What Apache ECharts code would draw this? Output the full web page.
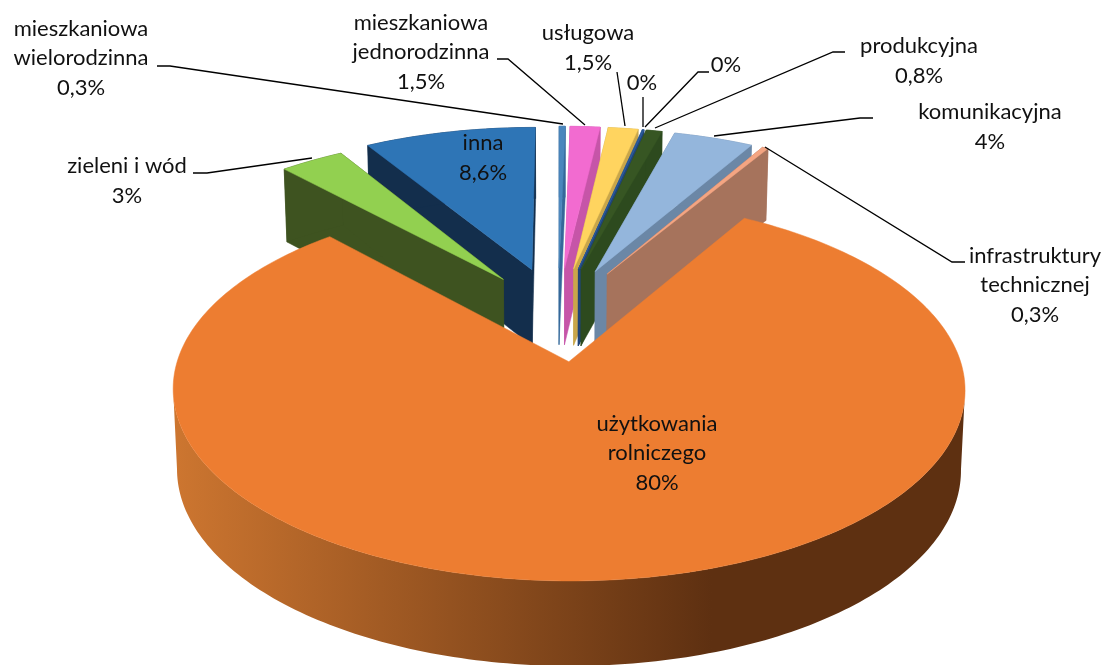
<!DOCTYPE html>
<html><head><meta charset="utf-8">
<style>html,body{margin:0;padding:0;background:#fff}#c{width:1104px;height:665px}</style>
<script src="https://cdn.jsdelivr.net/npm/echarts@6/dist/echarts.min.js"></script>
</head><body><div id="c"></div>
<script>
// ---- data (clockwise, starting from the left edge of the gap in the big slice)
const categories = ['zieleni i wód','inna','mieszkaniowa\nwielorodzinna','mieszkaniowa\njednorodzinna','usługowa','brak nazwy 1','brak nazwy 2','produkcyjna','komunikacyjna','infrastruktury\ntechnicznej','użytkowania\nrolniczego'];
const values = [3.2, 8.6, 0.3, 1.5, 1.5, 0.04, 0.04, 0.8, 4, 0.3, 80];
const valueLabels = ['3%','8,6%','0,3%','1,5%','1,5%','0%','0%','0,8%','4%','0,3%','80%'];
const topColors = ['#92d050','#2e75b6','#4a86bd','#f26bd0','#ffd45f','#2e5fa0','#2e5fa0','#375623','#94b6dc','#f4a582','#ed7d31'];
const wallColors = ['#3e5320','#132e4c','#35689a','#c655a8','#c9a64a','#1f4478','#1f4478','#2d4a1e','#6b87a6','#a6735c','#ed7d31'];
const explodes = [0.25, 0.27, 0.27, 0.27, 0.27, 0.27, 0.27, 0.27, 0.27, 0.27, 0.27];

// ---- layout of the 3D projection
const startAngle = -42.3;
const cx = 558, cy = 313.3, F = 377, G = 173.5, K = 0.14, depthBase = 78, depthSlope = 5.5, shrink = 0.99;
// label centres and leader lines, same order as categories
const labelAt = [[127,181],[483,158],[81,58],[421,52],[588,48],[642,83],[726,65],[919,61],[990,127],[1035,285],[657,453]];
const leaders = [
  [[193,173],[207,173],[312,158]],
  null,
  [[157,66],[170,66],[563,124]],
  [[497,59],[508,59],[585,125]],
  [[617,72],[625,126]],
  [[643,97],[643,127]],
  [[709,72],[698,72],[645,127]],
  [[845,52],[833,52],[655,128]],
  [[873,118],[860,118],[714,136]],
  [[965,262],[952,262],[765,147]],
  null
];

const total = values.reduce((a,b)=>a+b,0);
let acc = startAngle;
const slices = values.map((v,i)=>{const a0=acc, a1=acc+v/total*360; acc=a1; return {i,a0,a1,mid:(a0+a1)/2};});
const rad = d=>d*Math.PI/180;
function projTop(X,Y){const D=1+K*Y;return [cx+F*X/D, cy-G*Y/D];}
function projBot(X,Y){const p=projTop(X,Y);return [cx+(p[0]-cx)*shrink, p[1]+depthBase-depthSlope*Y];}
function sliceGeom(s){
  const m=rad(s.mid), e=explodes[s.i], ox=e*Math.sin(m), oy=e*Math.cos(m);
  const arc=[]; const n=Math.max(2,Math.ceil((s.a1-s.a0)/1));
  for(let j=0;j<=n;j++){const t=rad(s.a0+(s.a1-s.a0)*j/n);arc.push([ox+Math.sin(t),oy+Math.cos(t)]);}
  return {o:[ox,oy],arc};
}
function signedMid(s){let a=s.mid; if(a>180)a-=360; return Math.abs(a);}
const paintOrder = slices.slice().sort((a,b)=>signedMid(a)-signedMid(b)).map(s=>s.i);

function renderItem(params){
  const i=paintOrder[params.dataIndex], s=slices[i], g=sliceGeom(s), base=(params.dataIndex+1)*10;
  const ch=[];
  const poly=(pts,fill,z)=>ch.push({type:'polygon',shape:{points:pts},style:{fill,stroke:fill,lineWidth:0.5},z2:base+z});
  const isBig=i===values.length-1;
  if(!isBig){
    const first=g.arc[0], last=g.arc[g.arc.length-1], w=wallColors[i];
    poly([projTop(...g.o),projTop(...first),projBot(...first),projBot(...g.o)],w,0);
    poly([projTop(...g.o),projTop(...last),projBot(...last),projBot(...g.o)],w,0);
    poly(g.arc.map(p=>projTop(...p)).concat(g.arc.slice().reverse().map(p=>projBot(...p))),w,0);
  } else {
    // the visible side runs between the widest points of the top face
    const xs=g.arc.map(p=>projTop(...p)[0]);
    const iA=xs.indexOf(Math.max(...xs)), iB=xs.indexOf(Math.min(...xs));
    const front=g.arc.slice(Math.min(iA,iB),Math.max(iA,iB)+1);
    const grad=new echarts.graphic.LinearGradient(0,0,1,0,[
      {offset:0,color:'#cd7630'},{offset:0.68,color:'#5e3011'},{offset:1,color:'#5e3011'}]);
    ch.push({type:'polygon',shape:{points:front.map(p=>projTop(...p)).concat(front.slice().reverse().map(p=>projBot(...p)))},style:{fill:grad},z2:base});
  }
  poly([projTop(...g.o)].concat(g.arc.map(p=>projTop(...p))),topColors[i],5);
  return {type:'group',children:ch};
}
function renderLabels(params){
  const i=params.dataIndex, ch=[];
  if(leaders[i]) ch.push({type:'polyline',shape:{points:leaders[i]},style:{stroke:'#000',lineWidth:1.3,fill:null},z2:1000});
  ch.push({type:'text',x:labelAt[i][0],y:labelAt[i][1],style:{
    text:categories[i].startsWith('brak')?valueLabels[i]:categories[i]+'\n'+valueLabels[i],
    font:'22px Lato',lineHeight:29.5,fill:'#111',align:'center',verticalAlign:'middle'},z2:1001});
  return {type:'group',children:ch};
}
const chart=echarts.init(document.getElementById('c'),null,{renderer:'canvas'});
chart.setOption({
  animation:false,
  backgroundColor:'#fff',
  series:[
    {type:'custom',coordinateSystem:'none',silent:true,renderItem,z:1,
     data:paintOrder.map(i=>({name:categories[i],value:[values[i]]}))},
    {type:'custom',coordinateSystem:'none',silent:true,renderItem:renderLabels,z:2,
     data:categories.map((c,i)=>({name:c,value:[values[i]]}))}
  ]
});
</script></body></html>
